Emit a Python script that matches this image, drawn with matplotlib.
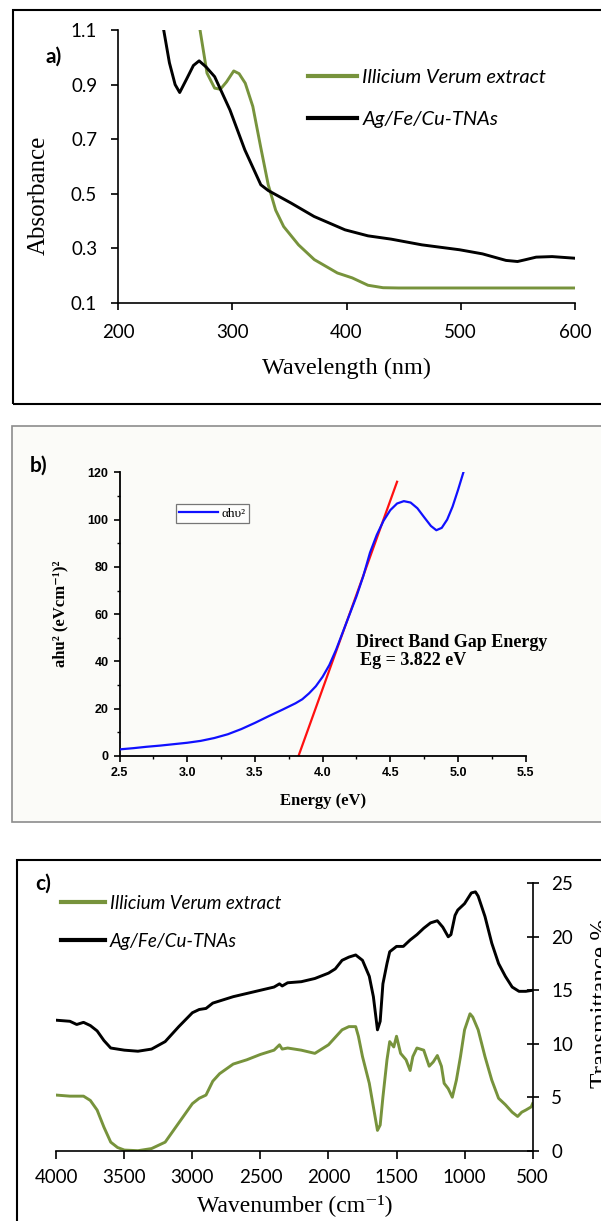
import matplotlib
matplotlib.use("Agg")
from matplotlib import pyplot as plt
from matplotlib.patches import Rectangle

W, H = 601, 1221

# ---- panel a: UV-vis absorbance ----
uv_ext_x = [271.8, 277.9, 284.6, 289.6, 295, 301.3, 306, 311.4, 318, 324.8, 331.5, 338, 345,
            358, 371.8, 392, 405, 418.8, 432, 445.6, 500, 550, 600]
uv_ext_y = [1.1, 0.942, 0.887, 0.883, 0.91, 0.95, 0.94, 0.905, 0.82, 0.673, 0.533, 0.44, 0.38,
            0.313, 0.259, 0.21, 0.192, 0.165, 0.156, 0.155, 0.155, 0.155, 0.155]
uv_np_x = [240, 245, 250, 254, 260, 266, 271, 277, 284.6, 298, 311, 325, 331.5, 351.5, 371.6,
           398.7, 418.8, 439, 466, 499, 519, 539.6, 549.7, 556, 566, 580, 600]
uv_np_y = [1.1, 0.98, 0.90, 0.871, 0.92, 0.97, 0.987, 0.965, 0.929, 0.807, 0.661, 0.533, 0.512,
           0.466, 0.417, 0.368, 0.346, 0.334, 0.313, 0.295, 0.28, 0.256, 0.252, 0.258, 0.268,
           0.27, 0.264]
a_xticks = [200, 300, 400, 500, 600]
a_yticks = [0.1, 0.3, 0.5, 0.7, 0.9, 1.1]

# ---- panel b: Tauc plot ----
tauc_x = [2.5, 2.6, 2.7, 2.8, 2.9, 3.0, 3.1, 3.2, 3.3, 3.4, 3.5, 3.6, 3.7, 3.8, 3.85, 3.9,
          3.95, 4.0, 4.05, 4.1, 4.15, 4.2, 4.25, 4.3, 4.35, 4.4, 4.45, 4.5, 4.55, 4.6, 4.65,
          4.7, 4.75, 4.8, 4.84, 4.88, 4.92, 4.96, 5.0, 5.04]
tauc_y = [2.8, 3.3, 3.9, 4.4, 5.0, 5.6, 6.4, 7.6, 9.2, 11.4, 14.0, 16.8, 19.5, 22.3, 24.0,
          26.5, 29.5, 33.5, 38.5, 45.0, 52.5, 60.0, 67.5, 76.0, 86.0, 93.5, 99.5, 104.0, 106.8,
          107.8, 107.2, 104.8, 101.0, 97.3, 95.5, 96.5, 100.0, 105.5, 112.5, 120.0]
fit_x = [3.822, 4.55]
fit_y = [0, 116]
b_xticks = [2.5, 3.0, 3.5, 4.0, 4.5, 5.0, 5.5]
b_yticks = [0, 20, 40, 60, 80, 100, 120]

# ---- panel c: FTIR ----
ir_np_x = [4000, 3900, 3850, 3800, 3750, 3700, 3650, 3600, 3500, 3400, 3300, 3200, 3100, 3000,
           2950, 2900, 2850, 2800, 2700, 2600, 2500, 2400, 2360, 2340, 2300, 2200, 2100, 2000,
           1950, 1900, 1850, 1800, 1750, 1700, 1670, 1640, 1620, 1600, 1570, 1550, 1500, 1450,
           1400, 1350, 1300, 1250, 1200, 1160, 1120, 1100, 1070, 1050, 1000, 950, 920, 900,
           850, 800, 750, 700, 650, 600, 550, 500]
ir_np_y = [12.2, 12.1, 11.8, 12.0, 11.7, 11.2, 10.3, 9.6, 9.4, 9.3, 9.5, 10.2, 11.6, 12.9,
           13.2, 13.3, 13.8, 14.0, 14.4, 14.7, 15.0, 15.3, 15.6, 15.4, 15.7, 15.8, 16.1, 16.6,
           17.0, 17.8, 18.1, 18.3, 17.8, 16.3, 14.4, 11.3, 12.1, 15.6, 17.5, 18.6, 19.1, 19.1,
           19.7, 20.2, 20.8, 21.3, 21.5, 20.9, 20.0, 20.2, 22.0, 22.5, 23.1, 24.1, 24.2, 23.8,
           21.9, 19.4, 17.5, 16.3, 15.3, 14.9, 14.9, 15.0]
ir_ext_x = [4000, 3900, 3800, 3750, 3700, 3650, 3600, 3550, 3500, 3400, 3300, 3200, 3100, 3000,
            2950, 2900, 2850, 2800, 2700, 2600, 2500, 2400, 2360, 2340, 2300, 2200, 2100, 2000,
            1900, 1850, 1800, 1780, 1750, 1700, 1670, 1640, 1620, 1600, 1570, 1550, 1520, 1500,
            1470, 1430, 1400, 1380, 1350, 1300, 1260, 1230, 1200, 1170, 1150, 1120, 1090, 1060,
            1030, 1000, 960, 940, 900, 850, 800, 750, 700, 650, 610, 580, 550, 510, 500]
ir_ext_y = [5.2, 5.1, 5.1, 4.7, 3.8, 2.2, 0.8, 0.3, 0.06, 0.0, 0.2, 0.8, 2.6, 4.4,
            4.9, 5.2, 6.5, 7.2, 8.1, 8.5, 9.0, 9.4, 9.9, 9.5, 9.6, 9.4, 9.1, 9.9,
            11.3, 11.6, 11.6, 10.7, 8.8, 6.3, 4.1, 1.9, 2.4, 5.0, 8.5, 10.2, 9.7, 10.7,
            9.1, 8.5, 7.5, 8.8, 9.6, 9.4, 7.9, 8.3, 8.9, 7.9, 6.3, 5.8, 5.0, 6.6,
            8.8, 11.3, 12.8, 12.5, 11.3, 8.8, 6.6, 4.9, 4.3, 3.6, 3.2, 3.6, 3.8, 4.1, 4.4]
c_xticks = [4000, 3500, 3000, 2500, 2000, 1500, 1000, 500]
c_yticks = [0, 5, 10, 15, 20, 25]

labels = ["Illicium Verum extract", "Ag/Fe/Cu-TNAs"]
green = "#77933c"

sans = ["Lato", "DejaVu Sans"]
serif = ["Liberation Serif", "DejaVu Serif"]


def fx(px):
    return px / W


def fy(py):
    return 1 - py / H


def axes_px(fig, x0, x1, y0, y1):
    return fig.add_axes([fx(x0), fy(y1), fx(x1) - fx(x0), fy(y0) - fy(y1)])


fig = plt.figure(figsize=(W / 100, H / 100), dpi=100)

# panel frames (behind the axes)
fig.add_artist(Rectangle((fx(12.5), fy(404)), fx(620), fy(10) - fy(404), transform=fig.transFigure,
                         fill=False, edgecolor="black", lw=1.5, zorder=-5))
fig.add_artist(Rectangle((fx(11.5), fy(822)), fx(620), fy(426) - fy(822), transform=fig.transFigure,
                         facecolor="#fbfbf8", edgecolor="#8c8c8c", lw=1.2, zorder=-5))
fig.add_artist(Rectangle((fx(17), fy(1240)), fx(620), fy(860) - fy(1240), transform=fig.transFigure,
                         fill=False, edgecolor="black", lw=1.5, zorder=-5))

# ---------- a) ----------
ax = axes_px(fig, 118, 575, 30, 303)
ax.plot(uv_ext_x, uv_ext_y, color=green, lw=2.1, label=labels[0])
ax.plot(uv_np_x, uv_np_y, color="black", lw=2.1, label=labels[1])
ax.set_xlim(200, 600)
ax.set_ylim(0.1, 1.1)
ax.set_xticks(a_xticks)
ax.set_yticks(a_yticks)
ax.set_yticklabels([f"{v:.1f}" for v in a_yticks])
for s in ["top", "right"]:
    ax.spines[s].set_visible(False)
ax.spines["left"].set_linewidth(1.2)
ax.spines["bottom"].set_linewidth(1.2)
ax.tick_params(labelsize=13.5, length=5, width=1.2, pad=10)
for t in ax.get_xticklabels() + ax.get_yticklabels():
    t.set_family(sans)
ax.set_xlabel("Wavelength (nm)", family=serif, fontsize=17.5, labelpad=12)
ax.set_ylabel("Absorbance", family=serif, fontsize=18)
ax.yaxis.set_label_coords(-0.149, 0.396)
ax.patch.set_alpha(0)
leg = ax.legend(loc="upper left", bbox_to_anchor=(fx(290), fy(51)), bbox_transform=fig.transFigure,
                frameon=False, handlelength=2.45, handletextpad=0.25, labelspacing=1.25,
                prop={"family": sans, "style": "italic", "size": 14.5})
for ln in leg.get_lines():
    ln.set_linewidth(3)
fig.text(fx(45), fy(57), "a)", family=sans, weight="bold", fontsize=15, va="center")

# ---------- b) ----------
ax = axes_px(fig, 119.5, 525.7, 472.3, 756)
ax.plot(tauc_x, tauc_y, color="#1010ff", lw=1.6, label="αhυ²", zorder=3)
ax.plot(fit_x, fit_y, color="#ff1010", lw=1.6, zorder=2)
ax.set_xlim(2.5, 5.5)
ax.set_ylim(0, 120)
ax.set_xticks(b_xticks)
ax.set_yticks(b_yticks)
ax.set_xticklabels([f"{v:.1f}" for v in b_xticks])
ax.set_xticks([2.75 + 0.5 * i for i in range(6)], minor=True)
ax.set_yticks([10 + 20 * i for i in range(6)], minor=True)
for s in ["top", "right"]:
    ax.spines[s].set_visible(False)
ax.spines["left"].set_linewidth(1.3)
ax.spines["bottom"].set_linewidth(1.3)
ax.tick_params(which="major", labelsize=9, length=4, width=1.2, pad=4)
ax.tick_params(which="minor", length=2.5, width=1.0)
for t in ax.get_xticklabels() + ax.get_yticklabels():
    t.set_family(["Liberation Sans", "DejaVu Sans"])
    t.set_weight("bold")
ax.set_xlabel("Energy (eV)", family=serif, weight="bold", fontsize=12, labelpad=10)
ax.set_ylabel("ahu² (eVcm⁻¹)²", family=serif, weight="bold", fontsize=12, labelpad=14)
ax.patch.set_alpha(0)
leg = ax.legend(loc="upper left", bbox_to_anchor=(fx(176), fy(504)), bbox_transform=fig.transFigure,
                frameon=True, fancybox=False, handlelength=2.9, handletextpad=0.3,
                borderpad=0.25, borderaxespad=0, prop={"family": serif, "size": 9.5})
leg.get_frame().set_edgecolor("#555555")
leg.get_frame().set_linewidth(0.9)
ax.text(4.243, 47.8, "Direct Band Gap Energy", family=serif, weight="bold", fontsize=13,
        va="center")
ax.text(4.276, 40.3, "Eg = 3.822 eV", family=serif, weight="bold", fontsize=13, va="center")
fig.text(fx(30), fy(466), "b)", family=sans, weight="bold", fontsize=15, va="center")

# ---------- c) ----------
ax = axes_px(fig, 56.3, 532.6, 883.3, 1150.7)
ax.plot(ir_ext_x, ir_ext_y, color=green, lw=2.1, label=labels[0])
ax.plot(ir_np_x, ir_np_y, color="black", lw=2.1, label=labels[1])
ax.set_xlim(4000, 500)
ax.set_ylim(0, 25)
ax.set_xticks(c_xticks)
ax.set_yticks(c_yticks)
ax.yaxis.tick_right()
for s in ["top", "left"]:
    ax.spines[s].set_visible(False)
ax.spines["right"].set_linewidth(1.2)
ax.spines["bottom"].set_linewidth(1.2)
ax.tick_params(axis="x", labelsize=13.5, length=6, width=1.2, pad=7)
ax.tick_params(axis="y", labelsize=13.5, length=9, width=1.2, pad=9, direction="inout")
for t in ax.get_xticklabels() + ax.get_yticklabels():
    t.set_family(sans)
ax.set_xlabel("Wavenumber (cm⁻¹)", family=serif, fontsize=17, labelpad=6)
ax.patch.set_alpha(0)
leg = ax.legend(loc="upper left", bbox_to_anchor=(fx(44), fy(878)), bbox_transform=fig.transFigure,
                frameon=False, handlelength=2.35, handletextpad=0.25, labelspacing=1.1,
                prop={"family": sans, "style": "italic", "size": 13.5})
for ln in leg.get_lines():
    ln.set_linewidth(3)
fig.text(fx(602), fy(1003), "Transmittance %", family=serif, fontsize=18, rotation=90,
         ha="center", va="center")
fig.text(fx(35), fy(884), "c)", family=sans, weight="bold", fontsize=15, va="center")

plt.savefig("out.png", dpi=100)
